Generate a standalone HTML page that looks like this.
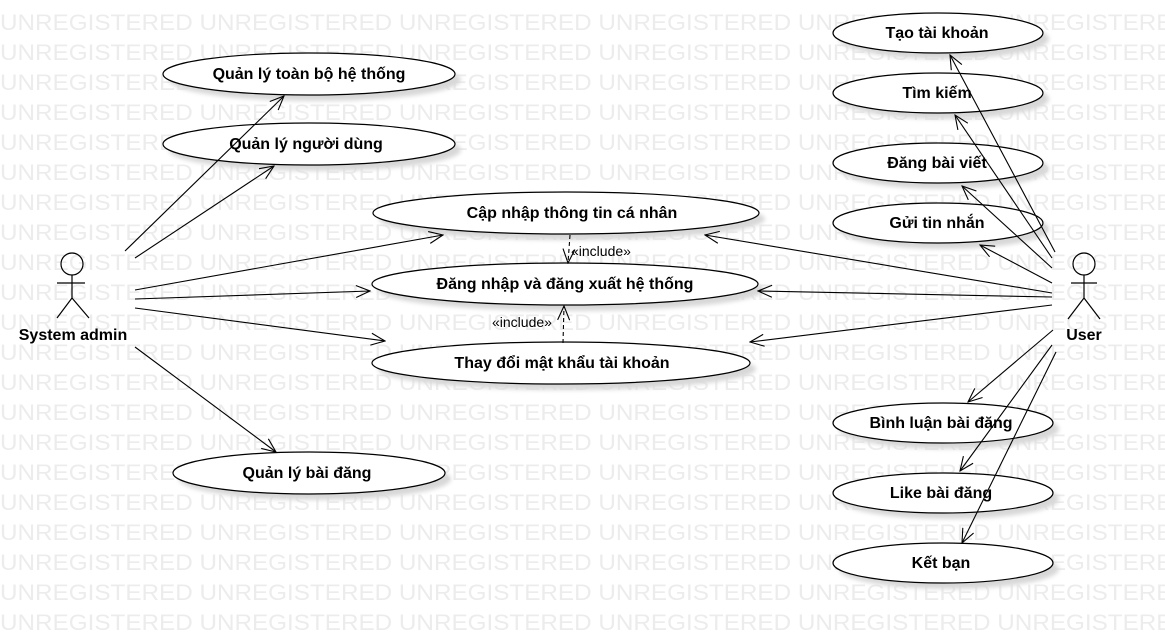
<!DOCTYPE html>
<html><head><meta charset="utf-8"><style>
html,body{margin:0;padding:0;background:#fff;}
svg{display:block;}
.wm{font-family:"Liberation Sans",sans-serif;font-size:22px;fill:#ececec;}
.t{font-family:"Liberation Sans","Noto Sans CJK SC",sans-serif;font-size:16px;font-weight:bold;fill:#000;text-anchor:middle;}
.inc{font-family:"Liberation Sans",sans-serif;font-size:14px;fill:#000;}
</style></head><body>
<svg width="1165" height="635" viewBox="0 0 1165 635" xmlns="http://www.w3.org/2000/svg">
<defs>
<filter id="b"><feGaussianBlur stdDeviation="2"/></filter>
<marker id="a" viewBox="0 0 16 14" refX="15" refY="7" markerWidth="16" markerHeight="14" markerUnits="userSpaceOnUse" orient="auto">
<polyline points="1,1 15,7 1,13" fill="none" stroke="#000" stroke-width="1.1"/>
</marker>
</defs>
<g class="wm">
<text x="0" y="30" textLength="1190" lengthAdjust="spacingAndGlyphs">UNREGISTERED UNREGISTERED UNREGISTERED UNREGISTERED UNREGISTERED UNREGISTERED</text>
<text x="0" y="60" textLength="1190" lengthAdjust="spacingAndGlyphs">UNREGISTERED UNREGISTERED UNREGISTERED UNREGISTERED UNREGISTERED UNREGISTERED</text>
<text x="0" y="90" textLength="1190" lengthAdjust="spacingAndGlyphs">UNREGISTERED UNREGISTERED UNREGISTERED UNREGISTERED UNREGISTERED UNREGISTERED</text>
<text x="0" y="120" textLength="1190" lengthAdjust="spacingAndGlyphs">UNREGISTERED UNREGISTERED UNREGISTERED UNREGISTERED UNREGISTERED UNREGISTERED</text>
<text x="0" y="150" textLength="1190" lengthAdjust="spacingAndGlyphs">UNREGISTERED UNREGISTERED UNREGISTERED UNREGISTERED UNREGISTERED UNREGISTERED</text>
<text x="0" y="180" textLength="1190" lengthAdjust="spacingAndGlyphs">UNREGISTERED UNREGISTERED UNREGISTERED UNREGISTERED UNREGISTERED UNREGISTERED</text>
<text x="0" y="210" textLength="1190" lengthAdjust="spacingAndGlyphs">UNREGISTERED UNREGISTERED UNREGISTERED UNREGISTERED UNREGISTERED UNREGISTERED</text>
<text x="0" y="240" textLength="1190" lengthAdjust="spacingAndGlyphs">UNREGISTERED UNREGISTERED UNREGISTERED UNREGISTERED UNREGISTERED UNREGISTERED</text>
<text x="0" y="270" textLength="1190" lengthAdjust="spacingAndGlyphs">UNREGISTERED UNREGISTERED UNREGISTERED UNREGISTERED UNREGISTERED UNREGISTERED</text>
<text x="0" y="300" textLength="1190" lengthAdjust="spacingAndGlyphs">UNREGISTERED UNREGISTERED UNREGISTERED UNREGISTERED UNREGISTERED UNREGISTERED</text>
<text x="0" y="330" textLength="1190" lengthAdjust="spacingAndGlyphs">UNREGISTERED UNREGISTERED UNREGISTERED UNREGISTERED UNREGISTERED UNREGISTERED</text>
<text x="0" y="360" textLength="1190" lengthAdjust="spacingAndGlyphs">UNREGISTERED UNREGISTERED UNREGISTERED UNREGISTERED UNREGISTERED UNREGISTERED</text>
<text x="0" y="390" textLength="1190" lengthAdjust="spacingAndGlyphs">UNREGISTERED UNREGISTERED UNREGISTERED UNREGISTERED UNREGISTERED UNREGISTERED</text>
<text x="0" y="420" textLength="1190" lengthAdjust="spacingAndGlyphs">UNREGISTERED UNREGISTERED UNREGISTERED UNREGISTERED UNREGISTERED UNREGISTERED</text>
<text x="0" y="450" textLength="1190" lengthAdjust="spacingAndGlyphs">UNREGISTERED UNREGISTERED UNREGISTERED UNREGISTERED UNREGISTERED UNREGISTERED</text>
<text x="0" y="480" textLength="1190" lengthAdjust="spacingAndGlyphs">UNREGISTERED UNREGISTERED UNREGISTERED UNREGISTERED UNREGISTERED UNREGISTERED</text>
<text x="0" y="510" textLength="1190" lengthAdjust="spacingAndGlyphs">UNREGISTERED UNREGISTERED UNREGISTERED UNREGISTERED UNREGISTERED UNREGISTERED</text>
<text x="0" y="540" textLength="1190" lengthAdjust="spacingAndGlyphs">UNREGISTERED UNREGISTERED UNREGISTERED UNREGISTERED UNREGISTERED UNREGISTERED</text>
<text x="0" y="570" textLength="1190" lengthAdjust="spacingAndGlyphs">UNREGISTERED UNREGISTERED UNREGISTERED UNREGISTERED UNREGISTERED UNREGISTERED</text>
<text x="0" y="600" textLength="1190" lengthAdjust="spacingAndGlyphs">UNREGISTERED UNREGISTERED UNREGISTERED UNREGISTERED UNREGISTERED UNREGISTERED</text>
<text x="0" y="630" textLength="1190" lengthAdjust="spacingAndGlyphs">UNREGISTERED UNREGISTERED UNREGISTERED UNREGISTERED UNREGISTERED UNREGISTERED</text>
</g>
<g fill="#d8d8d8" filter="url(#b)">
<ellipse cx="315" cy="80" rx="146" ry="21"/>
<ellipse cx="315" cy="150" rx="146" ry="21"/>
<ellipse cx="572" cy="219" rx="193" ry="21"/>
<ellipse cx="571" cy="290" rx="193" ry="21"/>
<ellipse cx="567" cy="369" rx="189" ry="21"/>
<ellipse cx="315" cy="479" rx="136" ry="21"/>
<ellipse cx="944" cy="39" rx="105" ry="20"/>
<ellipse cx="944" cy="99" rx="105" ry="20"/>
<ellipse cx="944" cy="169" rx="105" ry="20"/>
<ellipse cx="944" cy="229" rx="105" ry="20"/>
<ellipse cx="949" cy="429" rx="110" ry="20"/>
<ellipse cx="949" cy="499" rx="110" ry="20"/>
<ellipse cx="949" cy="569" rx="110" ry="20"/>
</g>
<g fill="#fff" stroke="#000" stroke-width="1.2">
<ellipse cx="309" cy="74" rx="146" ry="21"/>
<ellipse cx="309" cy="144" rx="146" ry="21"/>
<ellipse cx="566" cy="213" rx="193" ry="21"/>
<ellipse cx="565" cy="284" rx="193" ry="21"/>
<ellipse cx="561" cy="363" rx="189" ry="21"/>
<ellipse cx="309" cy="473" rx="136" ry="21"/>
<ellipse cx="938" cy="33" rx="105" ry="20"/>
<ellipse cx="938" cy="93" rx="105" ry="20"/>
<ellipse cx="938" cy="163" rx="105" ry="20"/>
<ellipse cx="938" cy="223" rx="105" ry="20"/>
<ellipse cx="943" cy="423" rx="110" ry="20"/>
<ellipse cx="943" cy="493" rx="110" ry="20"/>
<ellipse cx="943" cy="563" rx="110" ry="20"/>
</g>
<g class="t">
<text x="309" y="79">Quản lý toàn bộ hệ thống</text>
<text x="306" y="149">Quản lý người dùng</text>
<text x="572" y="218">Cập nhập thông tin cá nhân</text>
<text x="565" y="289">Đăng nhập và đăng xuất hệ thống</text>
<text x="562" y="368">Thay đổi mật khẩu tài khoản</text>
<text x="307" y="478">Quản lý bài đăng</text>
<text x="937" y="38">Tạo tài khoản</text>
<text x="937" y="98">Tìm kiếm</text>
<text x="937" y="168">Đăng bài viết</text>
<text x="937" y="228">Gửi tin nhắn</text>
<text x="941" y="428">Bình luận bài đăng</text>
<text x="941" y="498">Like bài đăng</text>
<text x="941" y="568">Kết bạn</text>
<text x="73" y="340">System admin</text>
<text x="1084" y="340">User</text>
</g>
<g stroke="#000" stroke-width="1.2" fill="none">
<circle cx="72" cy="264" r="11"/>
<line x1="72" y1="275" x2="72" y2="298"/><line x1="57" y1="283" x2="85" y2="283"/>
<line x1="72" y1="298" x2="57" y2="318"/><line x1="72" y1="298" x2="89" y2="318"/>
<circle cx="1084" cy="264" r="11"/>
<line x1="1084" y1="275" x2="1084" y2="298"/><line x1="1071" y1="283" x2="1097" y2="283"/>
<line x1="1084" y1="298" x2="1068" y2="319"/><line x1="1084" y1="298" x2="1100" y2="319"/>
</g>
<g stroke="#000" stroke-width="1.1" fill="none" marker-end="url(#a)">
<line x1="125" y1="251" x2="284" y2="96"/>
<line x1="135" y1="258" x2="274" y2="166"/>
<line x1="135" y1="290" x2="443" y2="235"/>
<line x1="135" y1="299" x2="370" y2="291"/>
<line x1="135" y1="308" x2="385" y2="341"/>
<line x1="135" y1="347" x2="276" y2="452"/>
<line x1="1055" y1="252" x2="950" y2="55"/>
<line x1="1052" y1="258" x2="955" y2="115"/>
<line x1="1052" y1="268" x2="962" y2="186"/>
<line x1="1052" y1="283" x2="980" y2="245"/>
<line x1="1052" y1="293" x2="705" y2="235"/>
<line x1="1052" y1="297" x2="758" y2="291"/>
<line x1="1052" y1="305" x2="750" y2="342"/>
<line x1="1053" y1="330" x2="968" y2="402"/>
<line x1="1052" y1="345" x2="960" y2="471"/>
<line x1="1056" y1="352" x2="962" y2="543"/>
<line x1="570" y1="235" x2="568" y2="263" stroke-dasharray="4,3"/>
<line x1="563" y1="343" x2="564" y2="306" stroke-dasharray="4,3"/>
</g>
<text class="inc" x="571" y="256">«include»</text>
<text class="inc" x="492" y="327">«include»</text>
</svg>
</body></html>
